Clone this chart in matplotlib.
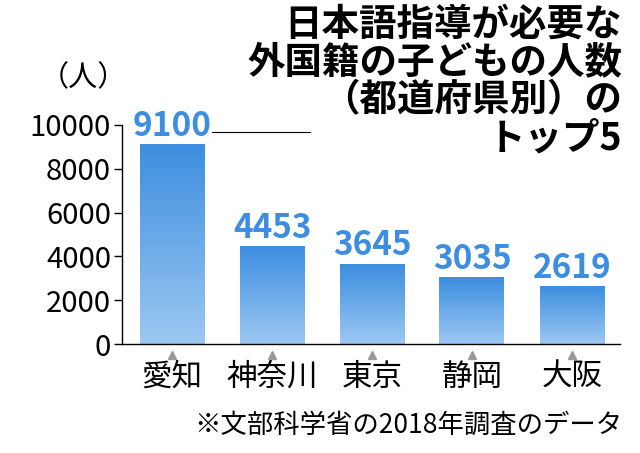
import matplotlib
matplotlib.use("Agg")
import matplotlib.pyplot as plt
import numpy as np
from matplotlib.colors import LinearSegmentedColormap

plt.rcParams['font.family'] = ['Noto Sans CJK JP', 'DejaVu Sans']

prefs = ["愛知", "神奈川", "東京", "静岡", "大阪"]
counts = [9100, 4453, 3645, 3035, 2619]
yticks = [0, 2000, 4000, 6000, 8000, 10000]
title_lines = ["日本語指導が必要な", "外国籍の子どもの人数", "（都道府県別）の", "トップ5"]
source = "※文部科学省の2018年調査のデータ"

W, H = 640, 453
fig = plt.figure(figsize=(W / 100, H / 100), dpi=100)
ax_top = 110
ax = fig.add_axes([122 / W, (H - 344) / H, (620 - 122) / W, (344 - ax_top) / H])
ymax = 10000 * (344 - ax_top) / (344 - 125)
ax.set_xlim(-0.5, 4.48)
ax.set_ylim(0, ymax)

cmap = LinearSegmentedColormap.from_list("b", ["#9cc8f2", "#3d8ee0"])
grad = np.linspace(0, 1, 256).reshape(-1, 1)
xs = np.arange(len(prefs))
bw = 0.65
for x, v, name in zip(xs, counts, prefs):
    ax.imshow(grad, cmap=cmap, origin="lower", aspect="auto",
              extent=(x - bw / 2, x + bw / 2, 0, v), zorder=2)
    ax.text(x, v + 80, f"{v}", ha="center", va="bottom", fontsize=24,
            fontweight="bold", color="#3d8ee0", zorder=4,
            bbox=dict(facecolor="white", edgecolor="none", pad=0))
    ax.plot([x], [-ymax * 0.045], marker="^", color="#999999", markersize=6,
            clip_on=False)
    ax.text(x, -ymax * 0.075, name, ha="center", va="top", fontsize=22)

# decorative line from title
ax.plot([xs[0] + 0.33, xs[1] + 0.38], [9700, 9700], color="black", lw=0.8, zorder=1)

ax.set_yticks(yticks)
ax.set_yticklabels([str(t) for t in yticks], fontsize=21)
ax.tick_params(axis="y", length=6, width=1, pad=2)
ax.set_xticks([])
for s in ["top", "right"]:
    ax.spines[s].set_visible(False)
ax.spines["left"].set_bounds(0, 10000)
ax.spines["left"].set_linewidth(1)
ax.spines["bottom"].set_linewidth(1)

fig.text(40 / W, 1 - 78 / H, "（人）", fontsize=21, va="center", ha="left")
for i, line in enumerate(title_lines):
    fig.text(622 / W, 1 - (24 + i * 38) / H, line, fontsize=27,
             fontweight="bold", ha="right", va="center")
fig.text(622 / W, 1 - 425 / H, source, fontsize=19, ha="right", va="center")

fig.savefig("out.png", dpi=100)
